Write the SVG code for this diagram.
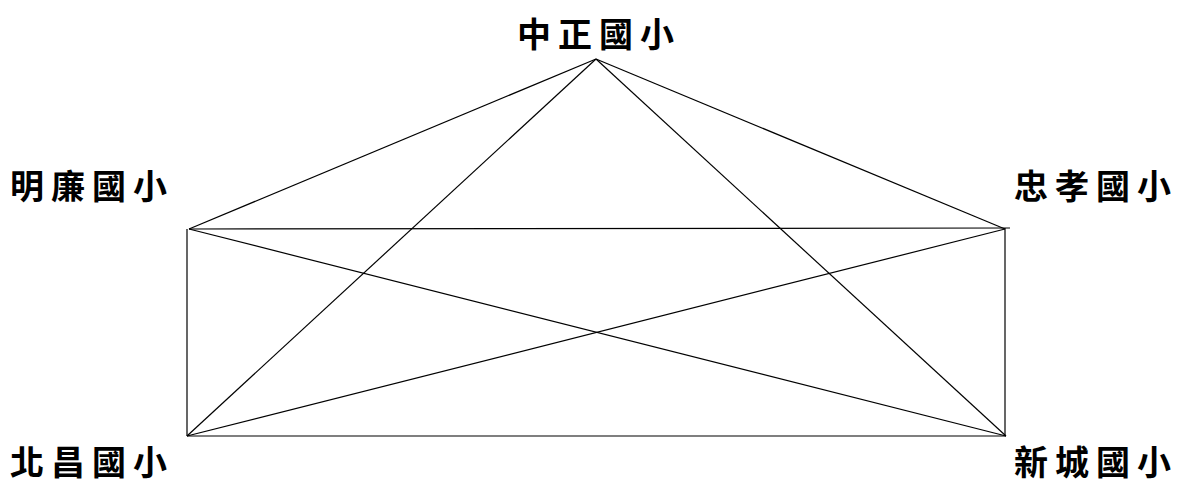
<svg xmlns="http://www.w3.org/2000/svg" width="1187" height="485" viewBox="0 0 1187 485">
<style>
.lbl{font-family:"Noto Sans CJK TC","Noto Sans CJK SC",sans-serif;font-weight:bold;font-size:34px;letter-spacing:7px;fill:#000}
.ln{stroke:#000;stroke-width:1.2;fill:none}
</style>
<rect width="1187" height="485" fill="#fff"/>
<g id="connectors">
<line class="ln" x1="596" y1="59" x2="189" y2="229"/>
<line class="ln" x1="596" y1="59" x2="1005" y2="229"/>
<line class="ln" x1="596" y1="59" x2="187" y2="436"/>
<line class="ln" x1="596" y1="59" x2="1006" y2="436"/>
<line class="ln" x1="189" y1="229" x2="1010" y2="228"/>
<line class="ln" x1="187" y1="229" x2="187" y2="436"/>
<line class="ln" x1="1005" y1="228" x2="1005" y2="436"/>
<line class="ln" x1="187" y1="436" x2="1006" y2="436"/>
<line class="ln" x1="189" y1="229" x2="1006" y2="436"/>
<line class="ln" x1="187" y1="436" x2="1005" y2="229"/>
</g>
<g id="n-zhongzheng"><text class="lbl" x="517" y="47">中正國小</text></g>
<g id="n-minglian"><text class="lbl" x="10" y="199">明廉國小</text></g>
<g id="n-zhongxiao"><text class="lbl" x="1014" y="199">忠孝國小</text></g>
<g id="n-beichang"><text class="lbl" x="10" y="475">北昌國小</text></g>
<g id="n-xincheng"><text class="lbl" x="1014" y="475">新城國小</text></g>
</svg>
